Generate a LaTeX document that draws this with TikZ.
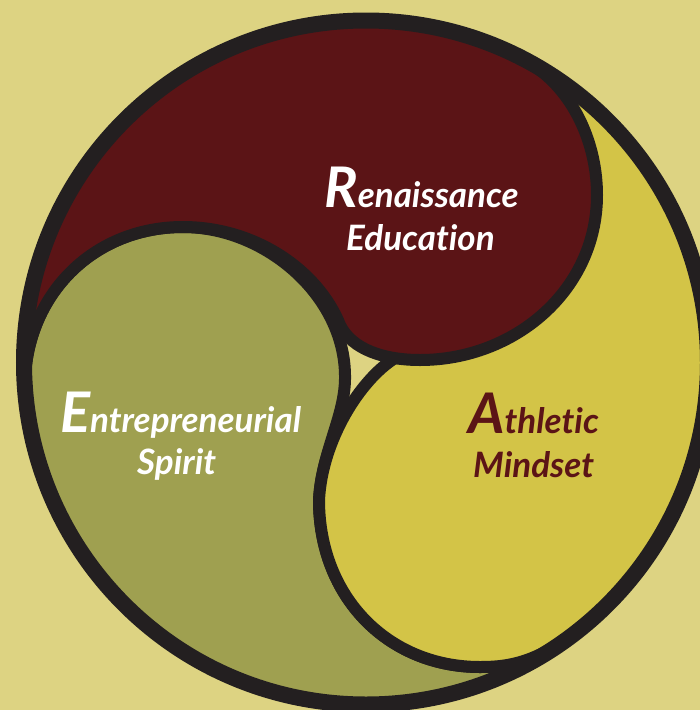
\documentclass[tikz,border=0pt]{standalone}
\usepackage{fontspec}
\setmainfont{Lato}[Ligatures=NoCommon]
\definecolor{bgc}{HTML}{DDD382}
\definecolor{redc}{HTML}{5B1416}
\definecolor{olivec}{HTML}{9FA050}
\definecolor{yellowc}{HTML}{D3C447}
\definecolor{darkc}{HTML}{231F20}
\tikzset{
  region/.style={draw=darkc,line width=12pt,line join=round},
  lbl/.style={anchor=base west,inner sep=0pt,font=\fontsize{35}{35}\selectfont\bfseries\itshape},
}
\newcommand{\capltr}[1]{{\fontsize{56}{56}\selectfont #1}}
\begin{document}
\begin{tikzpicture}[x=1pt,y=-1pt]
\path[use as bounding box] (0,0) rectangle (700,710);
\clip (0,0) rectangle (700,710);
\fill[bgc] (0,0) rectangle (700,710);
\begin{scope}
\clip (366,362.5) circle[radius=342];
\fill[bgc] (0,0) rectangle (700,710);
% olive
\path[region,fill=olivec] (26,365) .. controls (36,285) and (100,227) .. (183,227)
  .. controls (265,227) and (344,295) .. (345,375)
  .. controls (346,415) and (322,450) .. (319,500)
  .. controls (319,597) and (388,667) .. (480,667)
  .. controls (500,667) and (520,665) .. (545,652)
  -- (600,800) -- (-50,800) -- (-50,365) -- cycle;
% yellow
\path[region,fill=yellowc] (395,358) .. controls (360,380) and (322,440) .. (319,500)
  .. controls (319,597) and (388,667) .. (480,667)
  .. controls (500,667) and (520,665) .. (545,652)
  -- (800,800) -- (800,-50) -- (537,68) -- cycle;
% red
\path[region,fill=redc] (26,365) .. controls (36,285) and (100,227) .. (183,227)
  .. controls (255,227) and (318,270) .. (340,325)
  .. controls (352,350) and (385,360) .. (420,360)
  .. controls (515,360) and (597,290) .. (597,195)
  .. controls (597,145) and (575,95) .. (537,68)
  -- (537,-50) -- (-50,-50) -- (-50,365) -- cycle;
\end{scope}
\draw[darkc,line width=16pt] (366,362.5) circle[radius=342];
\node[lbl,text=white] (ren) at (324,207) {\capltr{R}enaissance};
\node[lbl,text=white] (edu) at (346,250) {Education};
\node[lbl,text=white] (ent) at (60,432) {\capltr{E}ntrepreneurial};
\node[lbl,text=white] (spi) at (137,474) {Spirit};
\node[lbl,text=redc] (ath) at (468,433) {\capltr{A}thletic};
\node[lbl,text=redc] (min) at (473,477) {Mindset};
\end{tikzpicture}
\end{document}
